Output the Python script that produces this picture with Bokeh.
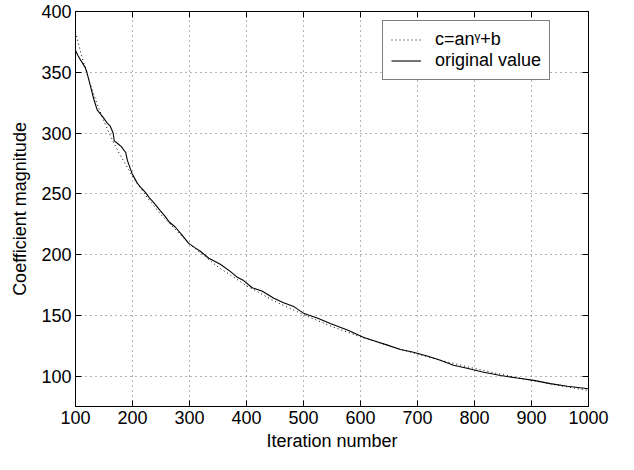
from bokeh.plotting import figure
from bokeh.models import (LinearAxis, FixedTicker, Range1d, Legend, LegendItem,
                          CustomJSTickFormatter)
from bokeh.embed import file_html
from bokeh.resources import INLINE

# Fitted curve c = a n^gamma + b
iter_fit = [100, 110, 125, 137.5, 150, 162.5, 175, 200, 225, 250, 300, 350, 400, 450,
            500, 550, 600, 650, 700, 750, 800, 850, 900, 950, 1000]
val_fit = [383.1, 364.8, 341.3, 324.4, 309.6, 296.5, 284.7, 264.3, 247.4, 232.8, 208.7,
           189.8, 174.4, 161.4, 150.6, 140.7, 132.3, 124.9, 118.1, 111.9, 106.3, 101.1,
           96.5, 92.1, 88.1]

# Original coefficient values
iter_orig = [100, 104, 109, 117, 120, 126, 132, 138, 145, 150, 156, 161, 166, 168, 175,
             180, 188, 191, 199, 208, 215, 223, 230, 237, 249, 258, 264, 275, 287, 299,
             310, 319, 334, 354, 372, 384, 395, 410, 427, 448, 465, 483, 500, 524, 547,
             577, 606, 629, 646, 670, 693, 717, 740, 763, 787, 816, 846, 875, 904, 933,
             963, 1000]
val_orig = [368, 364, 360, 354, 350, 339, 328, 319, 315, 312, 308, 305.6, 300, 293.6, 291,
            289, 284, 277.5, 267, 259, 255, 251, 246.5, 243, 236, 231, 227, 222.7, 216, 209,
            205.5, 202.7, 197, 192, 186, 181.3, 178.6, 172.7, 170, 164, 160.4, 157.2, 151.8,
            147.8, 143.3, 138, 131.8, 128.3, 125.7, 121.9, 119.7, 116.5, 113, 109, 106.4,
            103.2, 100.5, 98.4, 96.5, 93.8, 91.7, 89.6]

x_ticks = [100, 200, 300, 400, 500, 600, 700, 800, 900, 1000]
y_ticks = [100, 150, 200, 250, 300, 350, 400]

FONT = "Liberation Sans"
FS = "18px"

p = figure(width=618, height=454, output_backend="svg", toolbar_location=None,
           x_range=Range1d(100, 1000), y_range=Range1d(75, 400),
           min_border_left=75, min_border_right=30, min_border_top=11,
           min_border_bottom=48, x_axis_label="Iteration number",
           y_axis_label="Coefficient magnitude")
p.background_fill_color = "white"
p.border_fill_color = "white"
p.outline_line_color = "black"
p.outline_line_width = 1

def style_axis(ax, ticks, labels=True):
    ax.ticker = FixedTicker(ticks=ticks)
    ax.axis_line_color = "black"
    ax.axis_line_width = 1
    ax.major_tick_in = 6
    ax.major_tick_out = 0
    ax.major_tick_line_color = "black"
    ax.minor_tick_line_color = None
    ax.major_label_text_font = FONT
    ax.major_label_text_font_size = FS
    ax.major_label_text_color = "black"
    ax.axis_label_text_font = FONT
    ax.axis_label_text_font_size = FS
    ax.axis_label_text_font_style = "normal"
    ax.axis_label_text_color = "black"
    if not labels:
        ax.formatter = CustomJSTickFormatter(code="return '';")
        ax.major_label_standoff = 0

style_axis(p.xaxis[0], x_ticks)
style_axis(p.yaxis[0], y_ticks)
p.xaxis[0].major_label_standoff = 4
p.xaxis[0].axis_label_standoff = 4
p.yaxis[0].major_label_standoff = 4
p.yaxis[0].axis_label_standoff = 8

top = LinearAxis()
style_axis(top, x_ticks, labels=False)
p.add_layout(top, "above")
right = LinearAxis()
style_axis(right, y_ticks, labels=False)
p.add_layout(right, "right")

p.xgrid.ticker = FixedTicker(ticks=x_ticks)
p.ygrid.ticker = FixedTicker(ticks=y_ticks)
for g in (p.xgrid[0], p.ygrid[0]):
    g.grid_line_color = "#666666"
    g.grid_line_dash = "1 4"
    g.grid_line_width = 1

r_fit = p.line(iter_fit, val_fit, line_color="black", line_width=1, line_dash="1 3")
r_orig = p.line(iter_orig, val_orig, line_color="black", line_width=1.1)

legend = Legend(items=[LegendItem(label="c=anᵞ+b", renderers=[r_fit]),
                       LegendItem(label="original value", renderers=[r_orig])],
                location=(307, 326))
legend.label_text_font = FONT
legend.label_text_font_size = FS
legend.label_text_color = "black"
legend.border_line_color = "black"
legend.border_line_width = 1
legend.background_fill_color = "white"
legend.background_fill_alpha = 1
legend.padding = 8
legend.spacing = 0
legend.margin = 0
legend.label_height = 19
legend.glyph_height = 19
legend.glyph_width = 30
legend.label_standoff = 14
p.add_layout(legend, "center")

open("out.html", "w").write(file_html(p, INLINE))
